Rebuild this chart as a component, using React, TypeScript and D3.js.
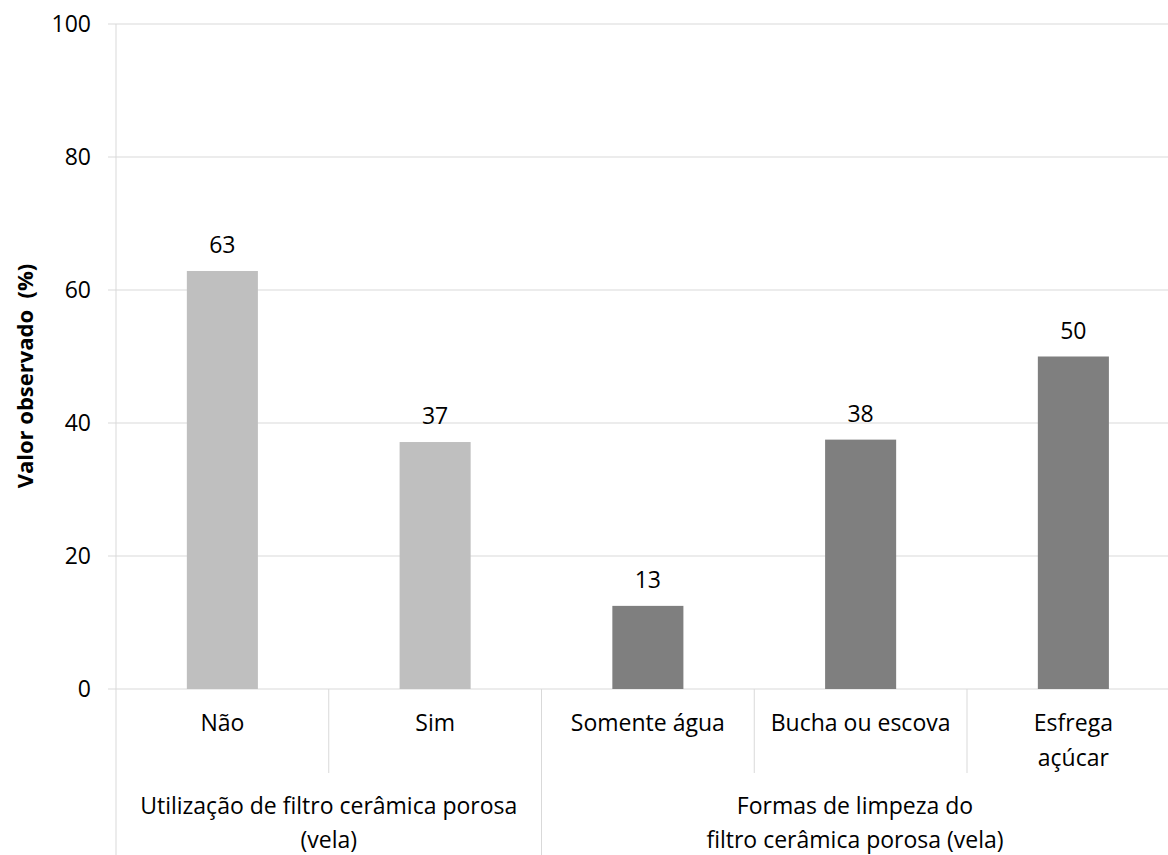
import React from "react";
import * as d3 from "d3";

const categories = ["Não", "Sim", "Somente água", "Bucha ou escova", "Esfrega açúcar"];
const categoryLines = [["Não"], ["Sim"], ["Somente água"], ["Bucha ou escova"], ["Esfrega", "açúcar"]];
const values = [62.86, 37.14, 12.5, 37.5, 50];
const barGroup = [0, 0, 1, 1, 1];
const groupLabels = [
  ["Utilização de filtro cerâmica porosa", "(vela)"],
  ["Formas de limpeza do", "filtro cerâmica porosa (vela)"],
];
const groupSpans = [[0, 2], [2, 5]];
const groupColors = ["#BFBFBF", "#7F7F7F"];
const yTicks = [0, 20, 40, 60, 80, 100];
const yTitle = "Valor observado  (%)";

const W = 1168;
const H = 855;
const left = 116;
const top = 24;
const bottom = 689;
const step = 212.75;
const right = left + step * categories.length;
const FONT = "'Open Sans', sans-serif";

export default function App() {
  const x = d3.scaleBand<string>().domain(categories).range([left, right]).paddingInner(0).paddingOuter(0);
  const y = d3.scaleLinear().domain([0, 100]).range([bottom, top]);
  const barW = x.bandwidth() * 0.334;
  const grid = "#D9D9D9";
  const fs = 23;

  return (
    <svg width={W} height={H} style={{ position: "absolute", left: 0, top: 0, background: "#fff" }} fontFamily={FONT}>
      <rect x={0} y={0} width={W} height={H} fill="#fff" />
      {yTicks.map((t) => (
        <g key={t}>
          <line x1={left - 8} x2={right} y1={y(t)} y2={y(t)} stroke={grid} strokeWidth={1} />
          <text x={91} y={y(t)} dy="0.36em" textAnchor="end" fontSize={fs} fill="#000">{t}</text>
        </g>
      ))}
      <line x1={left} x2={left} y1={top} y2={H} stroke={grid} strokeWidth={1} />
      {categories.map((c, i) => {
        const x0 = x(c)!;
        const isGroupStart = groupSpans.some((s) => s[0] === i);
        return i === 0 ? null : (
          <line key={"sep" + c} x1={x0} x2={x0} y1={bottom} y2={isGroupStart ? H : 773} stroke={grid} strokeWidth={1} />
        );
      })}
      <line x1={right} x2={right} y1={bottom} y2={H} stroke={grid} strokeWidth={1} />
      {categories.map((c, i) => {
        const cx = x(c)! + x.bandwidth() / 2;
        return (
          <g key={c}>
            <rect x={cx - barW / 2} y={y(values[i])} width={barW} height={bottom - y(values[i])} fill={groupColors[barGroup[i]]} />
            <text x={cx} y={y(values[i]) - 18} textAnchor="middle" fontSize={fs} fill="#000">{Math.round(values[i])}</text>
            {categoryLines[i].map((l, k) => (
              <text key={k} x={cx} y={723 + k * 35} dy="0.36em" textAnchor="middle" fontSize={fs} fill="#000">{l}</text>
            ))}
          </g>
        );
      })}
      {groupSpans.map((s, g) => {
        const cx = (x(categories[s[0]])! + x(categories[s[1] - 1])! + x.bandwidth()) / 2;
        return groupLabels[g].map((l, k) => (
          <text key={g + "-" + k} x={g === 0 ? cx : 855} y={806 + k * 34} dy="0.36em" textAnchor="middle" fontSize={fs} fill="#000">{l}</text>
        ));
      })}
      <text transform={`translate(25,376) rotate(-90)`} textAnchor="middle" dy="0.36em" fontSize={22} fontWeight="bold" fill="#000" style={{ whiteSpace: "pre" }}>{yTitle}</text>
    </svg>
  );
}
